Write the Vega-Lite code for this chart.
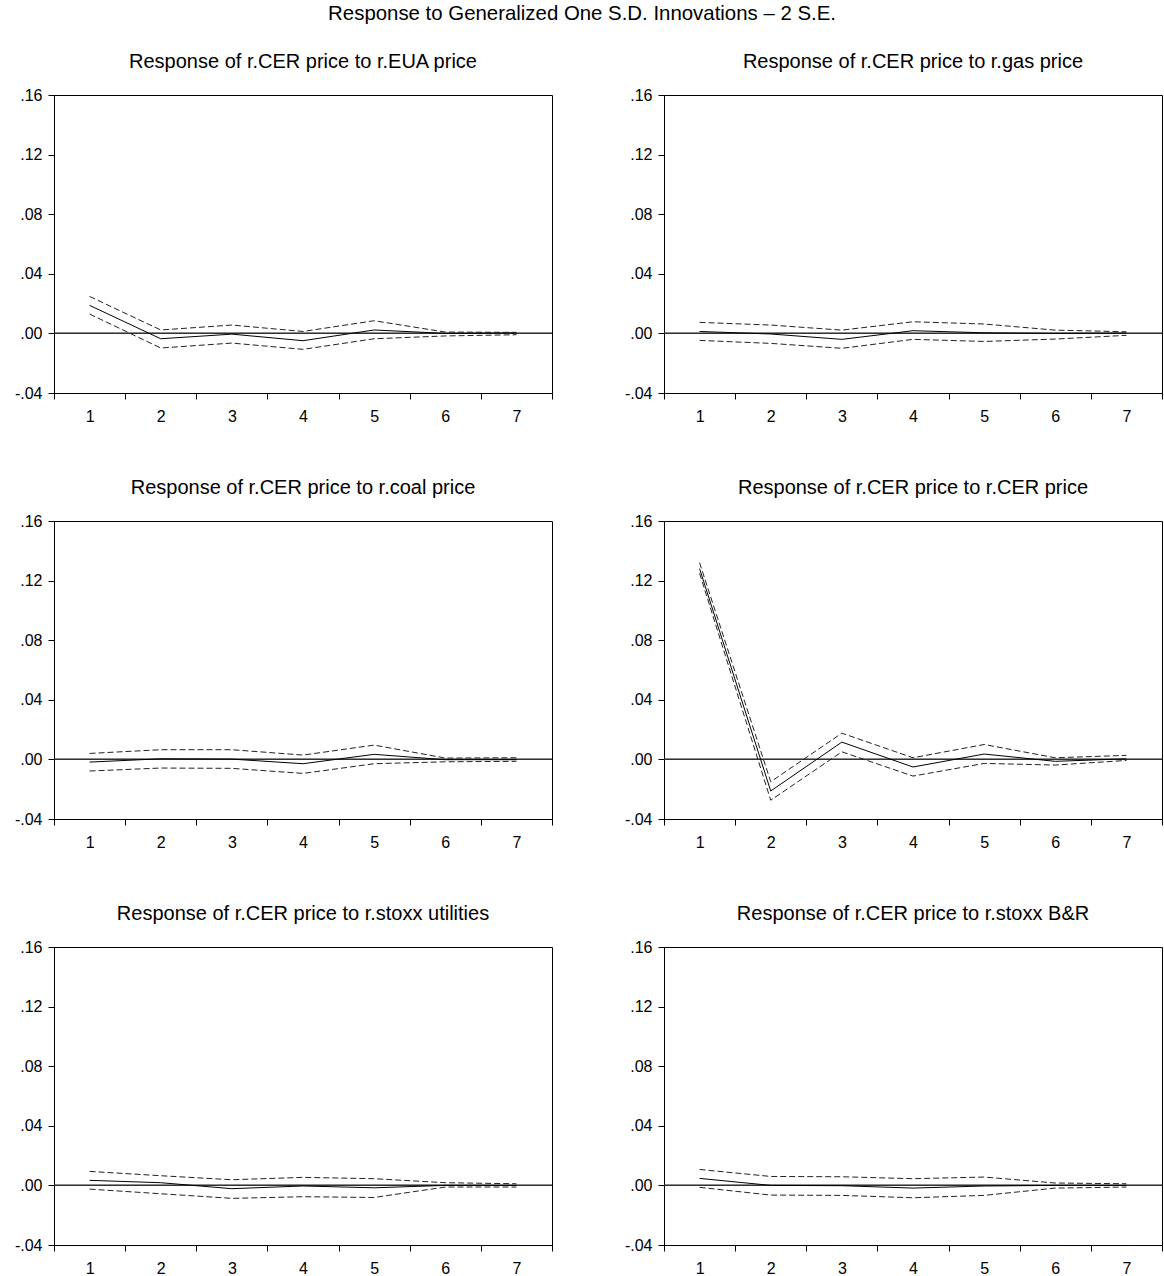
{
  "$schema": "https://vega.github.io/schema/vega-lite/v6.json",
  "padding": {"left": 13, "top": 4, "right": 0, "bottom": 0},
  "background": "white",
  "title": {"text": "Response to Generalized One S.D. Innovations – 2 S.E.", "fontSize": 20.4, "font": "Liberation Sans", "fontWeight": "normal", "color": "black", "anchor": "middle", "offset": 27, "dx": -24},
  "data": {"values": [
    {"panel": "Response of r.CER price to r.EUA price", "t": 1, "r": 0.0188, "hi": 0.0248, "lo": 0.013},
    {"panel": "Response of r.CER price to r.EUA price", "t": 2, "r": -0.0036, "hi": 0.0023, "lo": -0.0098},
    {"panel": "Response of r.CER price to r.EUA price", "t": 3, "r": -0.0005, "hi": 0.0056, "lo": -0.0065},
    {"panel": "Response of r.CER price to r.EUA price", "t": 4, "r": -0.0049, "hi": 0.0013, "lo": -0.0107},
    {"panel": "Response of r.CER price to r.EUA price", "t": 5, "r": 0.0023, "hi": 0.0085, "lo": -0.0036},
    {"panel": "Response of r.CER price to r.EUA price", "t": 6, "r": 0.0, "hi": 0.0009, "lo": -0.0017},
    {"panel": "Response of r.CER price to r.EUA price", "t": 7, "r": 0.0003, "hi": 0.0007, "lo": -0.0009},
    {"panel": "Response of r.CER price to r.gas price", "t": 1, "r": 0.0013, "hi": 0.0074, "lo": -0.0047},
    {"panel": "Response of r.CER price to r.gas price", "t": 2, "r": -0.0004, "hi": 0.0056, "lo": -0.0067},
    {"panel": "Response of r.CER price to r.gas price", "t": 3, "r": -0.004, "hi": 0.0022, "lo": -0.01},
    {"panel": "Response of r.CER price to r.gas price", "t": 4, "r": 0.0018, "hi": 0.0078, "lo": -0.004},
    {"panel": "Response of r.CER price to r.gas price", "t": 5, "r": 0.0004, "hi": 0.0063, "lo": -0.0054},
    {"panel": "Response of r.CER price to r.gas price", "t": 6, "r": 0.0, "hi": 0.0022, "lo": -0.0038},
    {"panel": "Response of r.CER price to r.gas price", "t": 7, "r": 0.0002, "hi": 0.0011, "lo": -0.0013},
    {"panel": "Response of r.CER price to r.coal price", "t": 1, "r": -0.0018, "hi": 0.004, "lo": -0.0078},
    {"panel": "Response of r.CER price to r.coal price", "t": 2, "r": 0.0004, "hi": 0.0065, "lo": -0.0058},
    {"panel": "Response of r.CER price to r.coal price", "t": 3, "r": 0.0002, "hi": 0.0065, "lo": -0.006},
    {"panel": "Response of r.CER price to r.coal price", "t": 4, "r": -0.0029, "hi": 0.0029, "lo": -0.0094},
    {"panel": "Response of r.CER price to r.coal price", "t": 5, "r": 0.0034, "hi": 0.0096, "lo": -0.0029},
    {"panel": "Response of r.CER price to r.coal price", "t": 6, "r": -0.0002, "hi": 0.0009, "lo": -0.0016},
    {"panel": "Response of r.CER price to r.coal price", "t": 7, "r": -0.0002, "hi": 0.0011, "lo": -0.0013},
    {"panel": "Response of r.CER price to r.CER price", "t": 1, "r": 0.128, "hi": 0.132, "lo": 0.1249},
    {"panel": "Response of r.CER price to r.CER price", "t": 2, "r": -0.0212, "hi": -0.015, "lo": -0.0274},
    {"panel": "Response of r.CER price to r.CER price", "t": 3, "r": 0.0116, "hi": 0.0176, "lo": 0.0051},
    {"panel": "Response of r.CER price to r.CER price", "t": 4, "r": -0.0051, "hi": 0.0011, "lo": -0.0112},
    {"panel": "Response of r.CER price to r.CER price", "t": 5, "r": 0.0036, "hi": 0.01, "lo": -0.0027},
    {"panel": "Response of r.CER price to r.CER price", "t": 6, "r": -0.0013, "hi": 0.0011, "lo": -0.0038},
    {"panel": "Response of r.CER price to r.CER price", "t": 7, "r": 0.0004, "hi": 0.0027, "lo": -0.0007},
    {"panel": "Response of r.CER price to r.stoxx utilities", "t": 1, "r": 0.0034, "hi": 0.0094, "lo": -0.0025},
    {"panel": "Response of r.CER price to r.stoxx utilities", "t": 2, "r": 0.0018, "hi": 0.0065, "lo": -0.0056},
    {"panel": "Response of r.CER price to r.stoxx utilities", "t": 3, "r": -0.0022, "hi": 0.0038, "lo": -0.0087},
    {"panel": "Response of r.CER price to r.stoxx utilities", "t": 4, "r": -0.0004, "hi": 0.0054, "lo": -0.0076},
    {"panel": "Response of r.CER price to r.stoxx utilities", "t": 5, "r": -0.0016, "hi": 0.0045, "lo": -0.0081},
    {"panel": "Response of r.CER price to r.stoxx utilities", "t": 6, "r": 0.0, "hi": 0.0018, "lo": -0.0011},
    {"panel": "Response of r.CER price to r.stoxx utilities", "t": 7, "r": 0.0, "hi": 0.0011, "lo": -0.0011},
    {"panel": "Response of r.CER price to r.stoxx B&R", "t": 1, "r": 0.0047, "hi": 0.0107, "lo": -0.0013},
    {"panel": "Response of r.CER price to r.stoxx B&R", "t": 2, "r": 0.0, "hi": 0.006, "lo": -0.0065},
    {"panel": "Response of r.CER price to r.stoxx B&R", "t": 3, "r": -0.0002, "hi": 0.0058, "lo": -0.0067},
    {"panel": "Response of r.CER price to r.stoxx B&R", "t": 4, "r": -0.0018, "hi": 0.0045, "lo": -0.0083},
    {"panel": "Response of r.CER price to r.stoxx B&R", "t": 5, "r": -0.0004, "hi": 0.0056, "lo": -0.0067},
    {"panel": "Response of r.CER price to r.stoxx B&R", "t": 6, "r": 0.0, "hi": 0.0016, "lo": -0.0018},
    {"panel": "Response of r.CER price to r.stoxx B&R", "t": 7, "r": 0.0, "hi": 0.0011, "lo": -0.0011}
  ]},
  "facet": {
    "field": "panel", "type": "nominal", "title": null,
    "sort": ["Response of r.CER price to r.EUA price", "Response of r.CER price to r.gas price", "Response of r.CER price to r.coal price", "Response of r.CER price to r.CER price", "Response of r.CER price to r.stoxx utilities", "Response of r.CER price to r.stoxx B&R"],
    "header": {"labelFontSize": 20, "labelFont": "Liberation Sans", "labelColor": "black", "labelPadding": 15, "labelOrient": "top"}
  },
  "columns": 2,
  "spacing": {"row": 52, "column": 34},
  "resolve": {"axis": {"x": "independent", "y": "independent"}},
  "spec": {
    "width": 498,
    "height": 298,
    "layer": [
      {
        "mark": {"type": "rule", "color": "#333", "strokeWidth": 1},
        "encoding": {"y": {"datum": 0, "type": "quantitative"}}
      },
      {
        "mark": {"type": "line", "color": "black", "strokeWidth": 1},
        "encoding": {
          "x": {"field": "t", "type": "quantitative", "title": null,
            "scale": {"domain": [0.5, 7.5], "nice": false, "zero": false},
            "axis": {"values": [0.5, 1.5, 2.5, 3.5, 4.5, 5.5, 6.5, 7.5], "labelExpr": "datum.value < 7 ? format(datum.value + 0.5, 'd') : ''", "labelOffset": 35.6, "labelFlush": false, "labelBound": false, "labelOverlap": false, "grid": false}},
          "y": {"field": "r", "type": "quantitative", "title": null,
            "scale": {"domain": [-0.04, 0.16], "nice": false, "zero": false},
            "axis": {"values": [-0.04, 0, 0.04, 0.08, 0.12, 0.16], "labelExpr": "replace(replace(format(datum.value, '.2f'), '0.', '.'), '\u2212', '-')", "grid": false, "labelOverlap": false, "labelFlush": false}}
        }
      },
      {
        "mark": {"type": "line", "color": "#222", "strokeWidth": 1, "strokeDash": [6, 3]},
        "encoding": {
          "x": {"field": "t", "type": "quantitative"},
          "y": {"field": "hi", "type": "quantitative"}
        }
      },
      {
        "mark": {"type": "line", "color": "#222", "strokeWidth": 1, "strokeDash": [6, 3]},
        "encoding": {
          "x": {"field": "t", "type": "quantitative"},
          "y": {"field": "lo", "type": "quantitative"}
        }
      }
    ]
  },
  "config": {
    "view": {"stroke": "black", "strokeWidth": 1},
    "axis": {"domainColor": "black", "tickColor": "black", "labelColor": "black", "labelFont": "Liberation Sans", "labelFontSize": 16, "tickSize": 6, "labelPadding": 6, "domainWidth": 1, "tickWidth": 1},
    "axisX": {"labelPadding": 9}
  }
}
